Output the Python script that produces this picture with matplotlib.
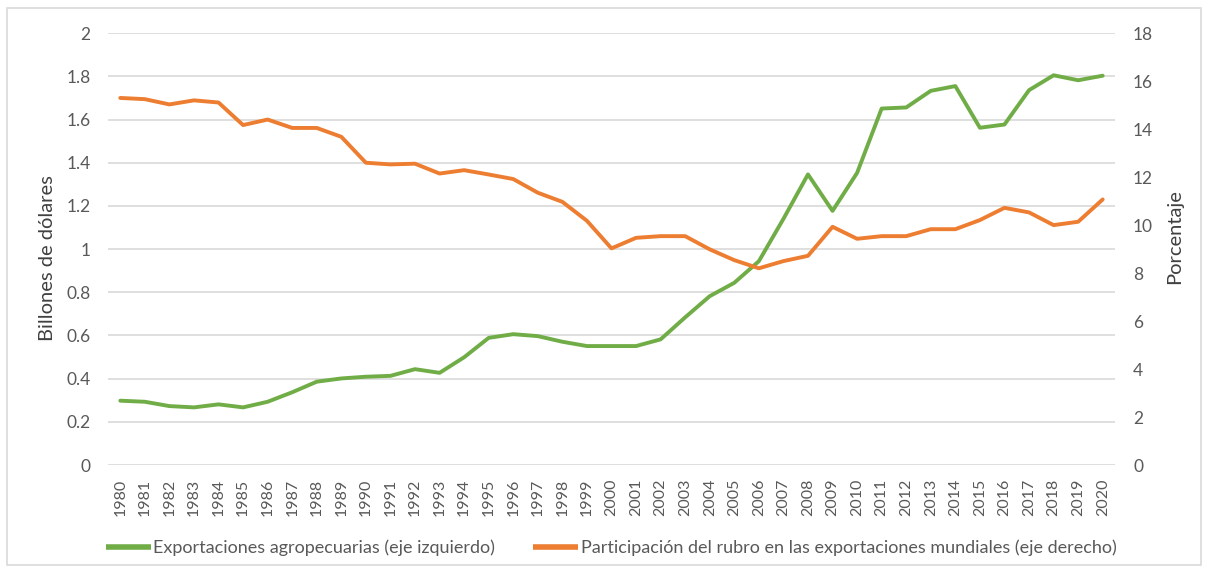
import numpy as np
import matplotlib
matplotlib.use('Agg')
import matplotlib.pyplot as plt
from matplotlib.patches import Rectangle

years = list(range(1980, 2021))

# exportaciones agropecuarias, billones de dolares (eje izquierdo)
exports = [0.298, 0.293, 0.273, 0.267, 0.281, 0.267, 0.293, 0.337, 0.386, 0.401,
           0.409, 0.413, 0.444, 0.427, 0.499, 0.589, 0.606, 0.597, 0.571, 0.551,
           0.551, 0.551, 0.582, 0.684, 0.782, 0.844, 0.944, 1.14, 1.346, 1.177,
           1.353, 1.651, 1.656, 1.733, 1.755, 1.562, 1.577, 1.736, 1.805, 1.782,
           1.803]

# participacion en exportaciones mundiales, porcentaje (eje derecho)
share = [15.3, 15.25, 15.03, 15.2, 15.11, 14.17, 14.4, 14.05, 14.05, 13.68,
         12.6, 12.53, 12.56, 12.15, 12.29, 12.11, 11.92, 11.35, 10.97, 10.18,
         9.03, 9.47, 9.54, 9.54, 8.99, 8.54, 8.2, 8.5, 8.72, 9.93,
         9.43, 9.54, 9.54, 9.83, 9.83, 10.21, 10.72, 10.53, 10.0, 10.14,
         11.07]

left_ticks = [0, 0.2, 0.4, 0.6, 0.8, 1, 1.2, 1.4, 1.6, 1.8, 2]
left_labels = ['0', '0.2', '0.4', '0.6', '0.8', '1', '1.2', '1.4', '1.6', '1.8', '2']
right_ticks = [0, 2, 4, 6, 8, 10, 12, 14, 16, 18]

green = '#70ad47'
orange = '#ed7d31'
grid_c = '#d9d9d9'
text_c = '#595959'

plt.rcParams['font.family'] = ['Lato', 'DejaVu Sans']

fig = plt.figure(figsize=(12.08, 5.72), dpi=100)
ax = fig.add_axes([0.0894, 0.187, 0.8336, 0.755])
ax2 = ax.twinx()

x = np.arange(len(years))
# gridlines and green series on the lower axes, orange on the twin above
for t in left_ticks:
    ax.axhline(t, color=grid_c, lw=1.2, zorder=0)
ax.plot(x, exports, color=green, lw=2.8, solid_capstyle='round', zorder=3,
        label='Exportaciones agropecuarias (eje izquierdo)')
ax2.plot(x, share, color=orange, lw=2.8, solid_capstyle='round', zorder=3,
         label='Participación del rubro en las exportaciones mundiales (eje derecho)')

ax.set_xlim(-0.5, len(years) - 0.5)
ax.set_ylim(0, 2)
ax2.set_ylim(0, 18)
ax.set_yticks(left_ticks)
ax.set_yticklabels(left_labels)
ax2.set_yticks(right_ticks)
ax.set_xticks(x)
ax.set_xticklabels([str(y) for y in years], rotation=90)

for a in (ax, ax2):
    for s in a.spines.values():
        s.set_visible(False)
    a.tick_params(length=0, colors=text_c, labelsize=12.5)
ax.tick_params(axis='y', pad=12.5)
ax2.tick_params(axis='y', pad=13)
ax.tick_params(axis='x', pad=10, labelsize=11.5)

ax.set_ylabel('Billones de dólares', fontsize=14.5, color='#404040')
ax.yaxis.set_label_coords(-0.052, 0.48)
ax2.set_ylabel('Porcentaje', fontsize=14.5, color='#404040')
ax2.yaxis.set_label_coords(1.051, 0.528)

h1, l1 = ax.get_legend_handles_labels()
h2, l2 = ax2.get_legend_handles_labels()
leg = fig.legend(h1 + h2, l1 + l2, loc='center', bbox_to_anchor=(0.506, 0.042),
                 ncol=2, frameon=False, handlelength=2.5, handletextpad=0.15,
                 columnspacing=2.1, fontsize=13)
for t in leg.get_texts():
    t.set_color(text_c)
for h in leg.legend_handles:
    h.set_linewidth(4)
    h.set_solid_capstyle('butt')

fig.patches.append(Rectangle((7 / 1208, 7 / 572), 1194 / 1208, 557 / 572,
                             transform=fig.transFigure, fill=False,
                             edgecolor=grid_c, lw=1.2))

fig.savefig('out.png', dpi=100)
